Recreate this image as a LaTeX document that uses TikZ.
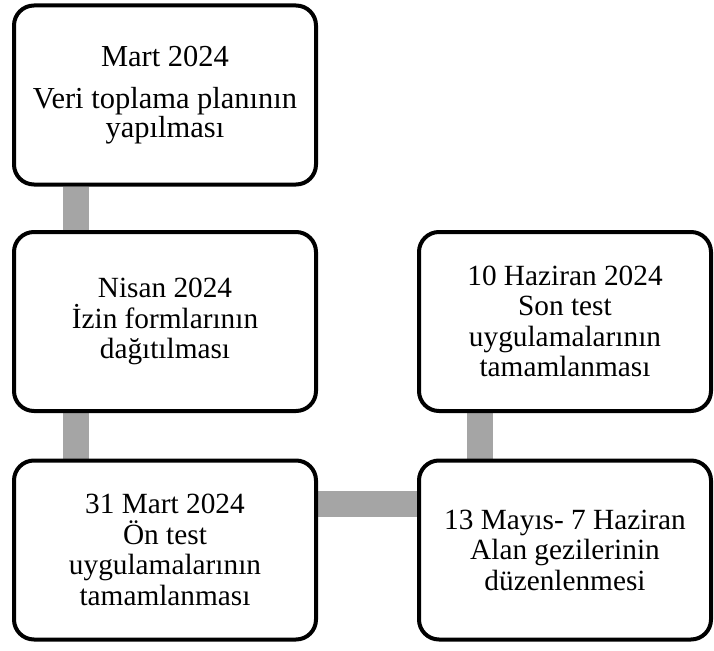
\documentclass[tikz,border=0pt]{standalone}
\usepackage{fontspec}
\setmainfont{Liberation Serif}
\usetikzlibrary{backgrounds}
\definecolor{bargray}{RGB}{165,165,165}
\tikzset{
  stagebox/.style={draw=black, line width=4pt, rounded corners=20pt, fill=white,
    minimum width=302pt, minimum height=179pt, align=center, inner sep=0pt,
    font=\fontsize{29.3}{30.5}\selectfont},
  rightbox/.style={stagebox, minimum width=292pt},
  bar/.style={draw=bargray, line width=26pt}
}
\begin{document}
\begin{tikzpicture}[x=1pt,y=-1pt]
\useasboundingbox (0,0) rectangle (714,650);
\node[stagebox, font=\fontsize{30.5}{27.5}\selectfont] (b1) at (165,95) {Mart 2024\\[14.5pt]Veri toplama planının\\yapılması};
\node[stagebox] (b2) at (165,321.5) {Nisan 2024\\İzin formlarının\\dağıtılması};
\node[stagebox] (b3) at (165,550) {31 Mart 2024\\Ön test\\uygulamalarının\\tamamlanması};
\node[rightbox] (b4) at (565,550) {13 Mayıs-\ 7 Haziran\\Alan gezilerinin\\düzenlenmesi};
\node[rightbox] (b5) at (565,321.5) {10 Haziran 2024\\Son test\\uygulamalarının\\tamamlanması};
\coordinate (lx) at (75.5,0);
\coordinate (rx) at (480,0);
\coordinate (hy) at (0,503.5);
\begin{pgfonlayer}{background}
\draw[bar] (b1.south -| lx) -- (b2.north -| lx);
\draw[bar] (b2.south -| lx) -- (b3.north -| lx);
\draw[bar] (b3.east |- hy) -- (b4.west |- hy);
\draw[bar] (b4.north -| rx) -- (b5.south -| rx);
\end{pgfonlayer}
\end{tikzpicture}
\end{document}
